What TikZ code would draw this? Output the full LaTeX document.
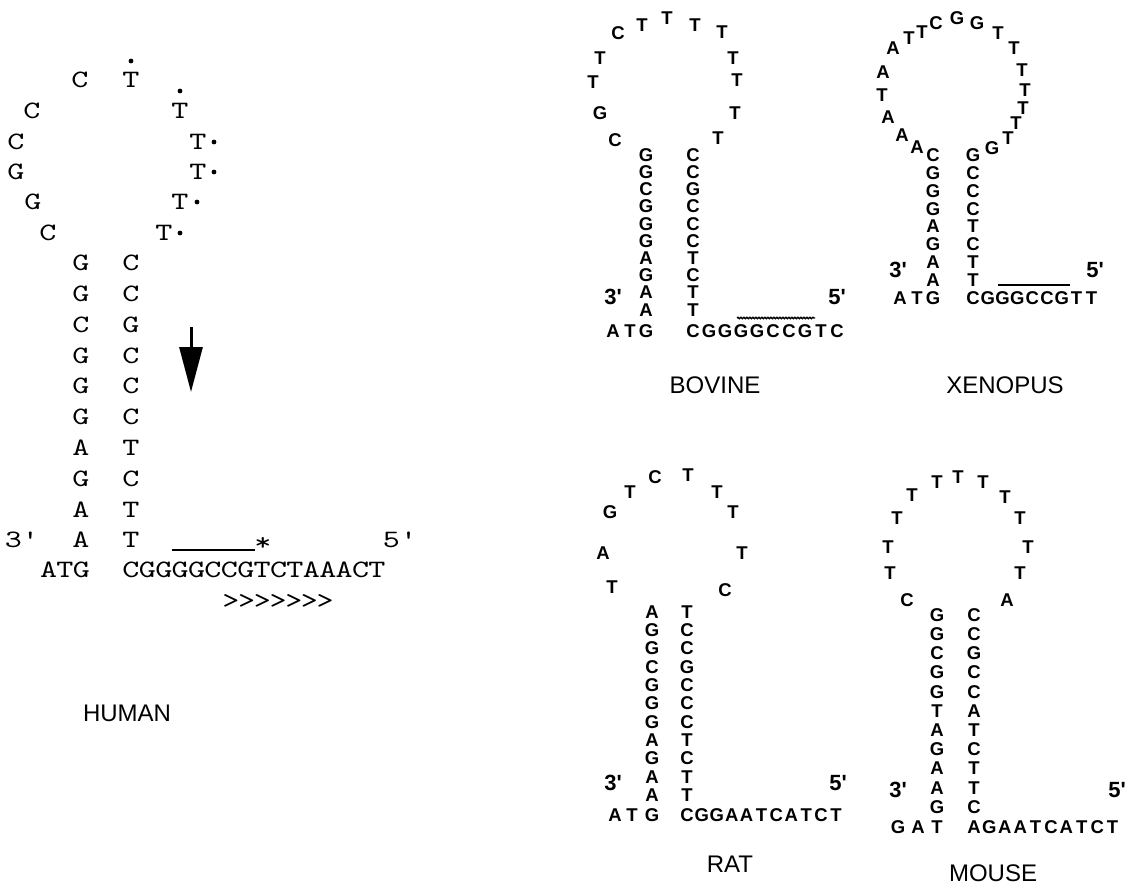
\documentclass[tikz,border=0pt]{standalone}
\usepackage{fontspec}
\newfontfamily\typefont{lmmono10-regular.otf}[FakeStretch=1.3]
\newfontfamily\helvfont{Liberation Sans}
\usetikzlibrary{arrows.meta,decorations.pathmorphing}
\tikzset{
  hbase/.style={font=\typefont\fontsize{25}{25}\selectfont,inner sep=0pt},
  rbase/.style={font=\helvfont\bfseries\fontsize{18.5}{18.5}\selectfont,inner sep=0pt},
  endlbl/.style={font=\helvfont\bfseries\fontsize{22}{22}\selectfont,inner sep=0pt},
  species/.style={font=\helvfont\fontsize{24}{24}\selectfont,inner sep=0pt},
  dotmark/.style={fill=black}
}

\begin{document}
\begin{tikzpicture}[x=1pt,y=-1pt]
\useasboundingbox[fill=white] (0,0) rectangle (1132,888);

\foreach \b/\x/\y [count=\i] in {C/80/80,C/32/111,C/16/142,G/16/172,G/33/202,C/48/233,
    T/131/80,T/180/111,T/198/142,T/198/172,T/180/202,T/164/233}
  \node[hbase] (hloop\i) at (\x,\y) {\b};
\fill[dotmark] ([yshift=19pt]hloop7.center) circle (2.4);
\fill[dotmark] ([yshift=20pt]hloop8.center) circle (2.4);
\fill[dotmark] ([xshift=16pt]hloop9.center) circle (2.4);
\fill[dotmark] ([xshift=16pt]hloop10.center) circle (2.4);
\fill[dotmark] ([xshift=17pt]hloop11.center) circle (2.4);
\fill[dotmark] ([xshift=16pt]hloop12.center) circle (2.4);
\foreach \l/\r [count=\i from 0] in {G/C,G/C,C/G,G/C,G/C,G/C,A/T,G/C,A/T,A/T}{
  \node[hbase] (hstl\i) at (81,263+30.8*\i) {\l};
  \node[hbase] (hstr\i) at (131,263+30.8*\i) {\r};
}
\node[hbase] (hthree) at (22,540) {3'};
\node[hbase] (hfive) at (400,540) {5'};
\foreach \b/\x [count=\i] in {A/48.6,T/65,G/81.4}
  \node[hbase] (hatg\i) at (\x,570) {\b};
\foreach \b [count=\i from 0] in {C,G,G,G,G,C,C,G,T,C,T,A,A,A,C,T}
  \node[hbase] (hseq\i) at (131+16.4*\i,570) {\b};
\draw[line width=1.5pt] (172,550) -- (255,550);
\node[hbase,anchor=base] (hstar) at (263,550) {*};
\foreach \i in {0,...,6}
  \node[hbase] (hrep\i) at (231+15.7*\i,602) {>};
\coordinate (arrtop) at (191,327);
\coordinate (arrtip) at (191,392);
\draw[line width=3pt,-{Triangle[length=45pt,width=23pt]}] (arrtop) -- (arrtip);
\node[species] (human) at (127,713) {HUMAN};

\foreach \b/\x/\y [count=\i] in {C/615/140,G/600/113,T/593/82,T/600/58,C/618/33,T/642/25,T/667/18,
    T/695/25,T/722/32,T/733/58,T/737/80,T/735/113,T/718/138}
  \node[rbase] (bloop\i) at (\x,\y) {\b};
\foreach \l/\r [count=\i from 0] in {G/C,G/C,C/G,G/C,G/C,G/C,A/T,G/C,A/T,A/T}{
  \node[rbase] (bstl\i) at (646,155+17.2*\i) {\l};
  \node[rbase] (bstr\i) at (693,155+17.2*\i) {\r};
}
\node[endlbl] (bthree) at (613,297) {3'};
\node[endlbl] (bfive) at (837,297) {5'};
\foreach \b/\x [count=\i] in {A/613,T/630,G/646}
  \node[rbase] (batg\i) at (\x,331) {\b};
\foreach \b [count=\i from 0] in {C,G,G,G,G,C,C,G,T,C}
  \node[rbase] (bseq\i) at (693+16*\i,331) {\b};
\draw[line width=1.4pt,decorate,decoration={snake,amplitude=0.7pt,segment length=3pt}] (737,318) -- (815,318);
\node[species] (bovine) at (715,385) {BOVINE};

\foreach \b/\x/\y [count=\i] in {A/917/147,A/902/135,A/888/117,T/882/95,A/883/72,A/893/48,T/909/38,
    T/922/32,C/936/23,G/957/18,G/977/23,T/998/33,T/1014/48,T/1022/70,T/1025/90,T/1023/108,
    T/1016/123,T/1008/138,G/992/148}
  \node[rbase] (xloop\i) at (\x,\y) {\b};
\foreach \l/\r [count=\i from 0] in {C/G,G/C,G/C,G/C,A/T,G/C,A/T,A/T}{
  \node[rbase] (xstl\i) at (933,155+17.9*\i) {\l};
  \node[rbase] (xstr\i) at (973,155+17.9*\i) {\r};
}
\node[endlbl] (xthree) at (898,270) {3'};
\node[endlbl] (xfive) at (1095,270) {5'};
\foreach \b/\x [count=\i] in {A/900,T/917,G/933}
  \node[rbase] (xatg\i) at (\x,298) {\b};
\foreach \b [count=\i from 0] in {C,G,G,G,C,C,G,T,T}
  \node[rbase] (xseq\i) at (973+14.8*\i,298) {\b};
\draw[line width=2pt] (998,285) -- (1070,285);
\node[species] (xenopus) at (1005,385) {XENOPUS};

\foreach \b/\x/\y [count=\i] in {T/612/587,A/603/553,G/610/512,T/630/492,C/655/477,T/688/475,
    T/717/492,T/733/512,T/742/553,C/725/590}
  \node[rbase] (rloop\i) at (\x,\y) {\b};
\foreach \l/\r [count=\i from 0] in {A/T,G/C,G/C,C/G,G/C,G/C,G/C,A/T,G/C,A/T,A/T}{
  \node[rbase] (rstl\i) at (652,612+18.3*\i) {\l};
  \node[rbase] (rstr\i) at (687,612+18.3*\i) {\r};
}
\node[endlbl] (rthree) at (613,783) {3'};
\node[endlbl] (rfive) at (838,783) {5'};
\foreach \b/\x [count=\i] in {A/615,T/632,G/652}
  \node[rbase] (ratg\i) at (\x,815) {\b};
\foreach \b [count=\i from 0] in {C,G,G,A,A,T,C,A,T,C,T}
  \node[rbase] (rseq\i) at (687+14.9*\i,815) {\b};
\node[species] (rat) at (730,864) {RAT};

\foreach \b/\x/\y [count=\i] in {C/907/600,T/890/573,T/888/547,T/897/518,T/912/495,T/937/482,
    T/958/477,T/983/482,T/1005/497,T/1020/518,T/1028/547,T/1020/573,A/1007/600}
  \node[rbase] (mloop\i) at (\x,\y) {\b};
\foreach \l/\r [count=\i from 0] in {G/C,G/C,C/G,G/C,G/C,T/A,A/T,G/C,A/T,A/T,G/C}{
  \node[rbase] (mstl\i) at (937,615+19.2*\i) {\l};
  \node[rbase] (mstr\i) at (974,615+19.2*\i) {\r};
}
\node[endlbl] (mthree) at (898,790) {3'};
\node[endlbl] (mfive) at (1117,790) {5'};
\foreach \b/\x [count=\i] in {G/898,A/918,T/937}
  \node[rbase] (mgat\i) at (\x,827) {\b};
\foreach \b [count=\i from 0] in {A,G,A,A,T,C,A,T,C,T}
  \node[rbase] (mseq\i) at (974+15.4*\i,827) {\b};
\node[species] (mouse) at (993,873) {MOUSE};
\end{tikzpicture}
\end{document}
